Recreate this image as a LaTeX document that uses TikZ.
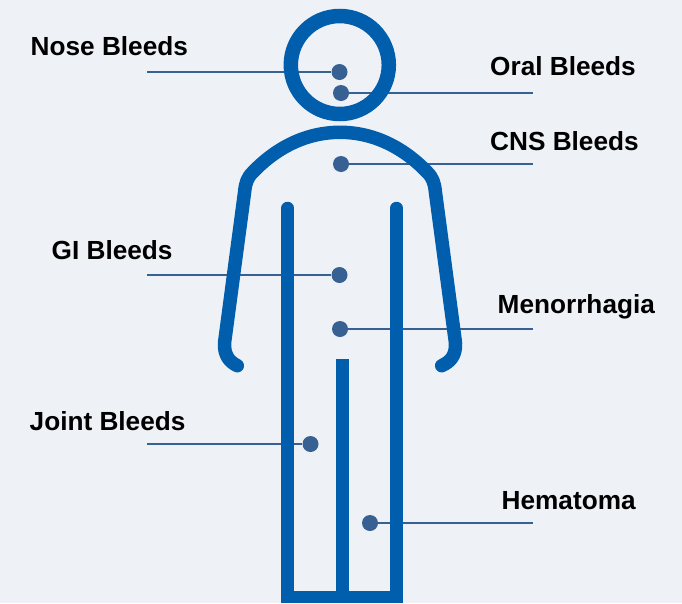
\documentclass[tikz,border=0pt]{standalone}
\usepackage{fontspec}
\setmainfont{Liberation Sans}
\definecolor{bgc}{HTML}{EEF2F7}
\definecolor{bodyc}{HTML}{005EAC}
\definecolor{dotc}{HTML}{386193}
\tikzset{
 site/.style={circle,fill=dotc,inner sep=0pt,minimum size=16pt},
 lead/.style={draw=dotc,line width=2.2pt},
 lab/.style={anchor=base west,font=\bfseries\fontsize{26.2}{30}\selectfont,inner sep=0pt,text=black},
 fig/.style={draw=bodyc,line width=13.5pt,line cap=round,line join=round}
}
\begin{document}
\begin{tikzpicture}[x=1pt,y=-1pt]
\useasboundingbox (0,0) rectangle (682,603);
\fill[bgc] (0,0) rectangle (682,603);
% sites
\node[site] (nose) at (339.5,72) {};
\node[site] (oral) at (341,93) {};
\node[site] (cns) at (341,164) {};
\node[site] (gi) at (339.5,275) {};
\node[site] (men) at (340,329) {};
\node[site] (joint) at (310.5,444) {};
\node[site] (hema) at (370,523) {};
% free ends
\coordinate (nosee) at (147,72);
\coordinate (orale) at (533,93);
\coordinate (cnse) at (533,164);
\coordinate (gie) at (147,275);
\coordinate (mene) at (533,329);
\coordinate (jointe) at (147,444);
\coordinate (hemae) at (533,523);
\draw[lead] (nosee) -- (nose);
\draw[lead] (oral) -- (orale);
\draw[lead] (cns) -- (cnse);
\draw[lead] (gie) -- (gi);
\draw[lead] (men) -- (mene);
\draw[lead] (jointe) -- (joint);
\draw[lead] (hema) -- (hemae);
% figure
\draw[bodyc,line width=14.5pt] (339.8,65) circle (49);
\draw[fig] (237.3,365.7) .. controls (229,361.5) and (224,355) .. (224.5,343)
  -- (244.6,192)
  .. controls (245.5,183) and (247,178) .. (253,172)
  .. controls (277,147) and (307,132.3) .. (340,132.3)
  .. controls (373,132.3) and (403,147) .. (427,172)
  .. controls (433,178) and (434.5,183) .. (435.4,192)
  -- (455.5,343)
  .. controls (456,355) and (451,361.5) .. (441.7,365.7);
\draw[bodyc,line width=12.5pt,line cap=round,line join=miter] (287.7,208) -- (287.7,597) -- (396.5,597) -- (396.5,208);
\draw[bodyc,line width=12.5pt] (342.3,359) -- (342.3,597);
% labels
\node[lab] (l1) at (30.5,55) {Nose Bleeds};
\node[lab] (l2) at (490,75) {Oral Bleeds};
\node[lab] (l3) at (490,150) {CNS Bleeds};
\node[lab] (l4) at (51.5,259) {GI Bleeds};
\node[lab] (l5) at (497.5,313) {Menorrhagia};
\node[lab] (l6) at (29.5,430) {Joint Bleeds};
\node[lab] (l7) at (501.5,509.5) {Hematoma};
\end{tikzpicture}
\end{document}
